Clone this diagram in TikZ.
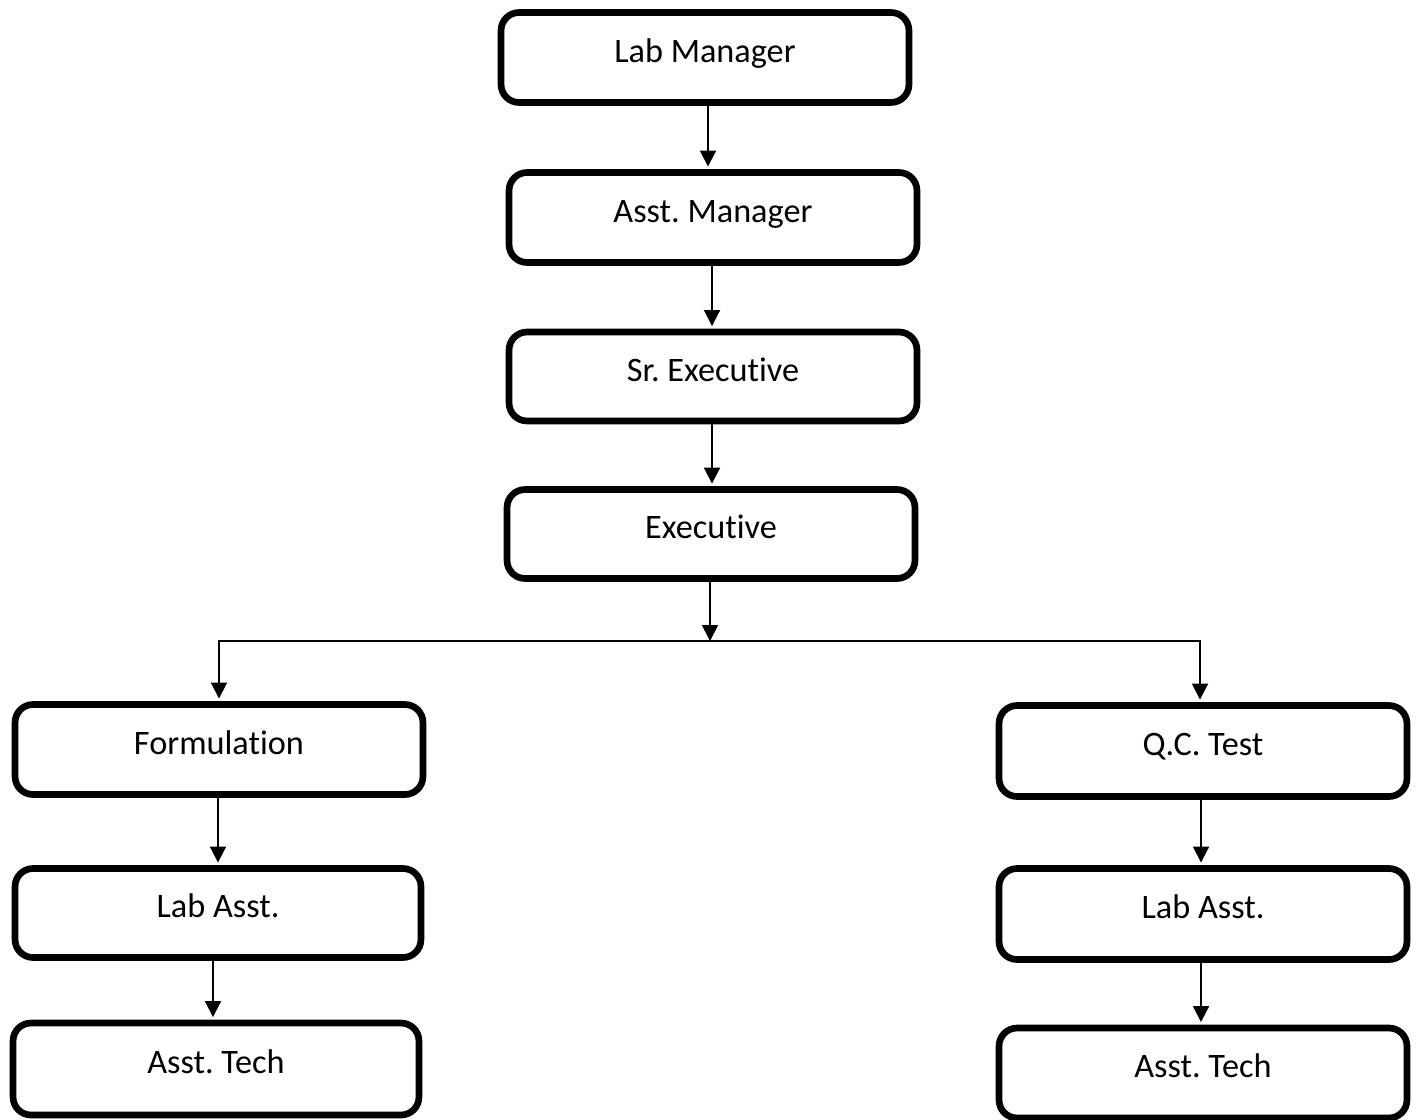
\documentclass[tikz,border=0pt]{standalone}
\usepackage{fontspec}
\setmainfont{Carlito}[Ligatures={NoCommon}]
\usetikzlibrary{arrows.meta}
\frenchspacing
\begin{document}
\begin{tikzpicture}[x=0.02cm,y=-0.02cm,
  unitbox/.style={draw=black, line width=3.8pt, rounded corners=0.36cm,
    minimum width=8.16cm, minimum height=1.80cm, inner sep=0pt,
    font=\fontsize{19.5}{22}\selectfont, text height=14*0.02cm, text depth=5*0.02cm},
  link/.style={draw=black, line width=1.1pt},
  arr/.style={link, -{Triangle[length=0.32cm, width=0.32cm]}, shorten >=1.5pt}]
  \useasboundingbox (0,0) rectangle (1419,1119);
  \clip (0,0) rectangle (1419,1119);

  % main chain
  \node[unitbox] (lm) at (705,57.5)  {Lab Manager};
  \node[unitbox] (am) at (713,217.5) {Asst. Manager};
  \node[unitbox, minimum height=1.78cm] (se) at (713,376.5) {Sr. Executive};
  \node[unitbox, minimum height=1.78cm] (ex) at (711,534)   {Executive};

  % formulation branch
  \node[unitbox] (fo)  at (219,749.5) {Formulation};
  \node[unitbox, minimum width=8.12cm, minimum height=1.78cm] (lal) at (218,913) {Lab Asst.};
  \node[unitbox, minimum width=8.12cm, minimum height=1.84cm] (atl) at (216,1069) {Asst. Tech};

  % QC branch
  \node[unitbox, minimum height=1.82cm] (qc)  at (1203,751)  {Q.C. Test};
  \node[unitbox, minimum height=1.82cm] (lar) at (1203,914)  {Lab Asst.};
  \node[unitbox, minimum height=1.80cm] (atr) at (1203,1073) {Asst. Tech};

  \coordinate (split) at (710,641);

  \draw[arr] (lm.south -| 708,0) -- (am.north -| 708,0);
  \draw[arr] (am.south -| 712,0) -- (se.north -| 712,0);
  \draw[arr] (se.south -| 712,0) -- (ex.north -| 712,0);
  \draw[arr, shorten >=0pt] (ex.south -| split) -- (split);
  \draw[arr] (split) -| (fo.north);
  \draw[arr] (split) -| (qc.north -| 1200,0);

  \draw[arr] (fo.south -| 218,0)  -- (lal.north -| 218,0);
  \draw[arr] (lal.south -| 213,0) -- (atl.north -| 213,0);
  \draw[arr] (qc.south -| 1201,0)  -- (lar.north -| 1201,0);
  \draw[arr] (lar.south -| 1201,0) -- (atr.north -| 1201,0);
\end{tikzpicture}
\end{document}
